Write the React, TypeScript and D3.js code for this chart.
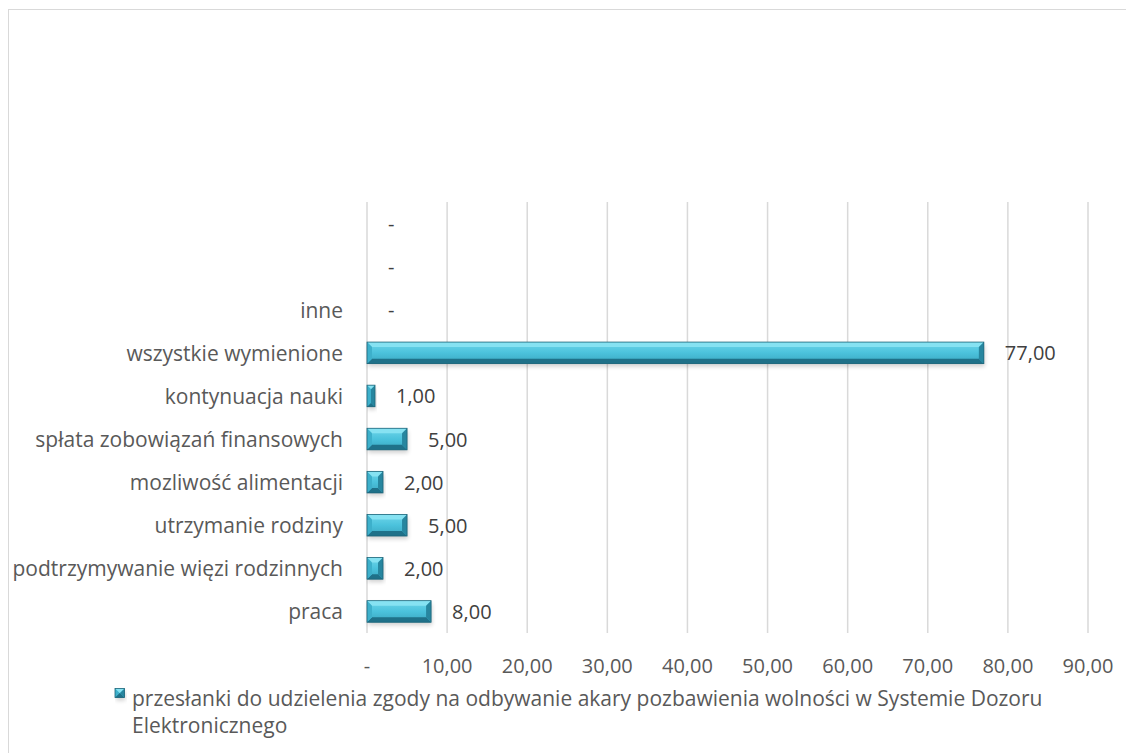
import React from "react";
import * as d3 from "d3";

const categories = [
  "praca",
  "podtrzymywanie więzi rodzinnych",
  "utrzymanie rodziny",
  "mozliwość alimentacji",
  "spłata zobowiązań finansowych",
  "kontynuacja nauki",
  "wszystkie wymienione",
  "inne",
  "",
  "",
];
const values = [8, 2, 5, 2, 5, 1, 77, 0, 0, 0];
const xTicks = [0, 10, 20, 30, 40, 50, 60, 70, 80, 90];
const seriesName =
  "przesłanki do udzielenia zgody na odbywanie akary pozbawienia wolności w Systemie Dozoru";
const seriesName2 = "Elektronicznego";

const W = 1126;
const H = 753;
const FONT = "'Open Sans', sans-serif";
const FS = 21;
const FN = 20;
const TXT = "#595959";

const fmt = (v: number) =>
  v === 0 ? "-" : d3.format(".2f")(v).replace(".", ",");

function BevelBar({ x0, x1, y0, y1 }: { x0: number; x1: number; y0: number; y1: number }) {
  const w = x1 - x0;
  const h = y1 - y0;
  if (w <= 0) return null;
  const b = Math.min(5, w / 2, h / 2);
  return (
    <g>
      <rect x={x0 + 1} y={y0 + 3} width={w} height={h} fill="#000" opacity={0.18} filter="url(#shadowBlur)" />
      <rect x={x0} y={y0} width={w} height={h} fill="url(#barGrad)" />
      <polygon points={`${x0},${y0} ${x1},${y0} ${x1 - b},${y0 + b} ${x0 + b},${y0 + b}`} fill="#86e2f2" />
      <polygon points={`${x0},${y1} ${x1},${y1} ${x1 - b},${y1 - b} ${x0 + b},${y1 - b}`} fill="#1f7189" />
      <polygon points={`${x0},${y0} ${x0 + b},${y0 + b} ${x0 + b},${y1 - b} ${x0},${y1}`} fill="#3db0cb" />
      <polygon points={`${x1},${y0} ${x1 - b},${y0 + b} ${x1 - b},${y1 - b} ${x1},${y1}`} fill="#27869f" />
      <rect x={x0} y={y0} width={w} height={h} fill="none" stroke="#1d6478" strokeWidth={0.8} />
    </g>
  );
}

export default function App() {
  const plotLeft = 367;
  const plotRight = 1088;
  const plotTop = 202;
  const plotBottom = 633;

  const x = d3.scaleLinear().domain([0, 90]).range([plotLeft, plotRight]);
  const idx = categories.map((_, i) => String(i));
  const y = d3
    .scaleBand<string>()
    .domain(idx.slice().reverse())
    .range([plotTop, plotBottom])
    .paddingInner(0.5)
    .paddingOuter(0.25);

  return (
    <svg
      width={W}
      height={H}
      style={{ position: "absolute", left: 0, top: 0, background: "#fff" }}
      fontFamily={FONT}
    >
      <defs>
        <linearGradient id="barGrad" x1="0" y1="0" x2="0" y2="1">
          <stop offset="0" stopColor="#6fd6ea" />
          <stop offset="0.5" stopColor="#4bc2dc" />
          <stop offset="1" stopColor="#3aa6c0" />
        </linearGradient>
        <filter id="shadowBlur" x="-10%" y="-50%" width="120%" height="200%">
          <feGaussianBlur stdDeviation="2" />
        </filter>
      </defs>
      <rect x={8.5} y={9.5} width={1130} height={760} fill="#fff" stroke="#d9d9d9" strokeWidth={1} />

      {xTicks.map((t) => (
        <line key={t} x1={x(t)} x2={x(t)} y1={plotTop} y2={plotBottom} stroke="#d9d9d9" strokeWidth={1.5} />
      ))}

      {categories.map((c, i) => {
        const yy = y(String(i))! + y.bandwidth() / 2;
        return (
          <text key={"c" + i} x={343} y={yy} textAnchor="end" dominantBaseline="central" fontSize={FS} fill={TXT}>
            {c}
          </text>
        );
      })}

      {values.map((v, i) => {
        const y0 = y(String(i))!;
        return (
          <g key={"b" + i}>
            <BevelBar x0={x(0)} x1={x(v)} y0={y0} y1={y0 + y.bandwidth()} />
            <text x={x(v) + 21} y={y0 + y.bandwidth() / 2} dominantBaseline="central" fontSize={FN} fill="#404040">
              {fmt(v)}
            </text>
          </g>
        );
      })}

      {xTicks.map((t) => (
        <text key={"t" + t} x={x(t)} y={665} textAnchor="middle" dominantBaseline="central" fontSize={FN} fill={TXT}>
          {fmt(t)}
        </text>
      ))}

      <g>
        <BevelBar x0={115} x1={124.5} y0={688.5} y1={697.5} />
        <text x={132} y={706} fontSize={FS} fill={TXT}>
          {seriesName}
        </text>
        <text x={132} y={733} fontSize={FS} fill={TXT}>
          {seriesName2}
        </text>
      </g>
    </svg>
  );
}
